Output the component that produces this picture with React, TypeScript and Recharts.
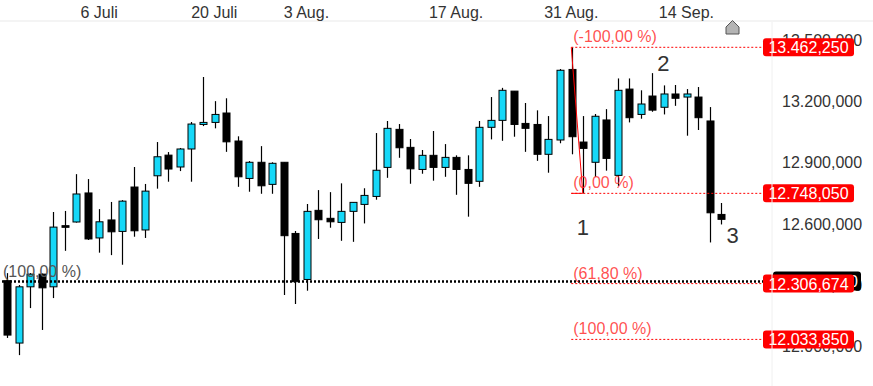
import React from 'react';
import { ComposedChart, Bar, XAxis, YAxis, ReferenceLine, ReferenceDot } from 'recharts';

// daily candles
const opens = [12321, 12016, 12291, 12353, 12291, 12590, 12608, 12750, 12530, 12618, 12562, 12779, 12569, 12834, 12935, 12877, 12965, 13085, 13095, 13141, 13004, 12821, 12900, 12792, 12900, 12552, 12327, 12665, 12626, 12606, 12660, 12694, 12733, 12875, 13061, 12973, 12865, 12934, 12875, 12924, 12865, 12807, 13071, 13105, 13248, 13090, 13085, 12939, 13009, 13354, 12999, 12900, 13107, 12836, 13258, 13134, 13224, 13169, 13234, 13219, 13219, 13102, 12645];
const highs = [12358, 12300, 12358, 12356, 12657, 12662, 12842, 12818, 12671, 12706, 12715, 12877, 12794, 12999, 12950, 12970, 13097, 13317, 13199, 13213, 13027, 12906, 12979, 12900, 12900, 12564, 12696, 12764, 12754, 12797, 12704, 12773, 13043, 13102, 13087, 13014, 12960, 13053, 12989, 12934, 12934, 13102, 13219, 13264, 13248, 13190, 13154, 13126, 13356, 13462.25, 13126, 13136, 13160, 13310, 13310, 13252, 13336, 13276, 13278, 13258, 13268, 13170, 12701];
const lows = [12041, 11957, 12187, 12080, 12236, 12467, 12605, 12520, 12458, 12446, 12399, 12536, 12530, 12771, 12805, 12857, 12805, 13077, 13066, 12951, 12780, 12756, 12746, 12746, 12251, 12207, 12272, 12525, 12580, 12516, 12511, 12601, 12717, 12824, 12922, 12795, 12844, 12810, 12829, 12741, 12634, 12780, 13012, 13005, 13025, 12951, 12907, 12849, 12993, 12939, 12748.05, 12829, 12859, 12785, 13095, 13113, 13147, 13134, 13176, 13030, 13058, 12508, 12596];
const closes = [12055, 12291, 12353, 12286, 12583, 12582, 12745, 12525, 12609, 12560, 12710, 12565, 12759, 12927, 12867, 12965, 13087, 13095, 13134, 13000, 12829, 12900, 12785, 12895, 12541, 12316, 12660, 12619, 12609, 12660, 12704, 12738, 12861, 13066, 12971, 12868, 12934, 12875, 12924, 12865, 12797, 13071, 13105, 13252, 13085, 13066, 12939, 13012, 13350, 13025, 12968, 13125, 12919, 13252, 13118, 13185, 13155, 13234, 13213, 13234, 13118, 12653, 12621];

const dateTickIdx = [8, 18, 26, 39, 49, 59];
const dateTickLabels = ['6 Juli', '20 Juli', '3 Aug.', '17 Aug.', '31 Aug.', '14 Sep.'];
const priceTicks = [12000, 12300, 12600, 12900, 13200, 13500];

// fibonacci tool
const fibStartIdx = 49;
const fibEndIdx = 50;
const fibLevels = [13462.25, 12748.05, 12306.674, 12033.85];
const fibLabels = ['(-100,00 %)', '(0,00 %)', '(61,80 %)', '(100,00 %)'];

// black horizontal marker
const markLevel = 12317;
const markText = '(100,00 %)';
const markPrice = '12.316,990';

// wave counts
const waveIdx = [50, 57, 63];
const waveVals = [12581, 13385, 12542];
const waveNames = ['1', '2', '3'];

const X_MIN = -0.608;
const X_MAX = 66.43;
const Y_MIN = 11806;
const Y_MAX = 13586;
const CYAN = '#16d8f8';
const RED = '#ff3030';

const data = opens.map((o, i) => ({ i, open: o, high: highs[i], low: lows[i], close: closes[i] }));

const fmt = (v: number) => {
  const [a, b] = v.toFixed(3).split('.');
  return a.replace(/\B(?=(\d{3})+(?!\d))/g, '.') + ',' + b;
};

const Candle = (props: any) => {
  const { x, y, width, height, payload } = props;
  const { open, close, high, low } = payload;
  const top = Math.min(y, y + height);
  const bot = Math.max(y, y + height);
  const span = high - low || 1;
  const py = (v: number) => top + ((high - v) / span) * (bot - top);
  const cx = Math.round(x + width / 2) + 0.5;
  const up = close >= open;
  const bTop = py(Math.max(open, close));
  const bBot = py(Math.min(open, close));
  return (
    <g>
      <line x1={cx} x2={cx} y1={top} y2={bot} stroke="#000" strokeWidth={1.2} />
      <rect x={cx - 3.5} y={bTop} width={7} height={Math.max(bBot - bTop, 1.5)} fill={up ? CYAN : '#000'} stroke="#000" strokeWidth={1} />
    </g>
  );
};

// price scale text, drawn as labels so the price boxes can sit above it
const tickLabel = (price: number) => (props: any) => {
  const { x, y, width } = props.viewBox;
  return (
    <text x={x + width + 10} y={y + 6} fill="#333" fontSize={16}>{fmt(price)}</text>
  );
};

// percent text above the line + red price box on the right
const fibLabel = (text: string, price: number) => (props: any) => {
  const { x, y, width } = props.viewBox;
  const right = x + width;
  return (
    <g>
      <text x={x + 2} y={y - 5} fill={RED} fontSize={16} fillOpacity={0.85}>{text}</text>
      <rect x={right - 9} y={y - 9} width={91} height={18} rx={3} fill="#f00" />
      <text x={right - 9 + 45.5} y={y + 6} fill="#fff" fontSize={16} textAnchor="middle">{fmt(price)}</text>
    </g>
  );
};

const markLabel = (props: any) => {
  const { x, y, width } = props.viewBox;
  const right = x + width;
  return (
    <g>
      <text x={x + 3} y={y - 5} fill="#555" fontSize={16}>{markText}</text>
      <rect x={right + 1} y={y - 10} width={88} height={19} rx={3} fill="#000" />
      <text x={right + 86} y={y + 5} fill="#fff" fontSize={16} textAnchor="end">{markPrice}</text>
    </g>
  );
};

export default function App() {
  return (
    <div style={{ position: 'absolute', left: 0, top: 0, width: 873, height: 386, fontFamily: '"Liberation Sans", Arial, sans-serif', background: '#fff' }}>
      <div style={{ position: 'absolute', left: 0, top: 20, width: 873, height: 2, background: '#f4f4f4' }} />
      <ComposedChart width={873} height={386} data={data} margin={{ top: 0, right: 0, bottom: 0, left: 0 }} style={{ position: 'absolute', left: 0, top: 0 }}>
        <XAxis
          dataKey="i"
          type="number"
          orientation="top"
          domain={[X_MIN, X_MAX]}
          allowDataOverflow
          ticks={dateTickIdx}
          interval={0}
          height={22}
          tickSize={0}
          tickMargin={4}
          axisLine={false}
          tickLine={false}
          tick={{ fill: '#333', fontSize: 16 }}
          tickFormatter={(v: number) => dateTickLabels[dateTickIdx.indexOf(v)] ?? ''}
        />
        <YAxis
          orientation="right"
          width={101}
          domain={[Y_MIN, Y_MAX]}
          allowDataOverflow
          ticks={priceTicks}
          tick={false}
          tickLine={false}
          axisLine={{ stroke: '#f0f0f0' }}
        />
        <Bar dataKey={(d: any) => [d.low, d.high]} barSize={8} shape={Candle} isAnimationActive={false} />
        {priceTicks.map((p) => (
          <ReferenceLine key={'t' + p} y={p} stroke="none" label={tickLabel(p)} />
        ))}
        <ReferenceLine y={markLevel} stroke="#000" strokeWidth={2.5} strokeDasharray="2 2" label={markLabel} />
        <ReferenceLine segment={[{ x: fibStartIdx, y: fibLevels[0] }, { x: fibEndIdx, y: fibLevels[1] }]} stroke="#f00" strokeWidth={1} />
        <ReferenceLine segment={[{ x: fibStartIdx, y: fibLevels[1] }, { x: fibEndIdx, y: fibLevels[1] }]} stroke="#f00" strokeWidth={1} />
        {fibLevels.map((lv, k) => (
          <ReferenceLine
            key={k}
            segment={[{ x: fibStartIdx, y: lv }, { x: X_MAX, y: lv }]}
            stroke="#f00"
            strokeWidth={1}
            strokeDasharray="2 2"
            label={fibLabel(fibLabels[k], lv)}
          />
        ))}
        {waveIdx.map((xi, k) => (
          <ReferenceDot
            key={k}
            x={xi}
            y={waveVals[k]}
            r={0}
            fill="none"
            stroke="none"
            label={{ value: waveNames[k], position: 'center', fill: '#333', fontSize: 22 }}
          />
        ))}
      </ComposedChart>
      <svg style={{ position: 'absolute', left: 724, top: 19 }} width={18} height={18}>
        <polygon points="8.5,1.5 15,8 15,15 2,15 2,8" fill="#b4b4b4" stroke="#555" strokeWidth={1} />
      </svg>
    </div>
  );
}
